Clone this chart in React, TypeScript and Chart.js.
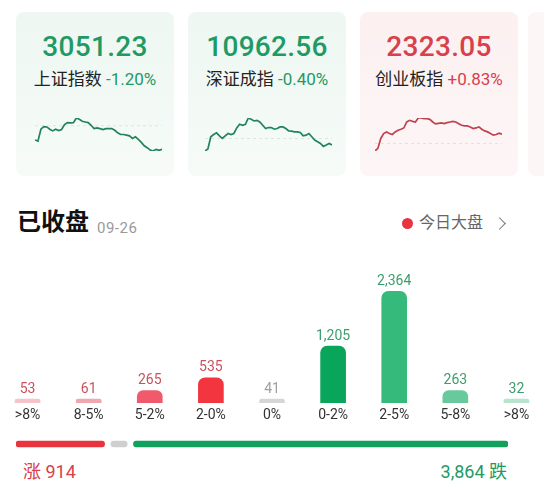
import React, { useEffect, useRef } from "react";
import { Chart, registerables } from "chart.js";

Chart.register(...registerables);

// ---------- DATA ----------
const indexNames = ["上证指数", "深证成指", "创业板指"];
const indexValues = [3051.23, 10962.56, 2323.05];
const indexChanges = [-1.2, -0.4, 0.83];
const indexPrevCloses = [3088.3, 11006.6, 2303.9];

const shSeries = [
  3065.9, 3064.1, 3082.8, 3087.0, 3086.4, 3082.8, 3080.2, 3082.8, 3080.7, 3082.3,
  3090.1, 3093.2, 3092.7, 3093.2, 3100.5, 3098.4, 3095.3, 3094.2, 3093.2, 3089.0,
  3083.8, 3084.9, 3083.8, 3082.3, 3083.8, 3083.8, 3083.8, 3081.2, 3077.1, 3074.5,
  3074.5, 3073.4, 3072.4, 3068.2, 3070.8, 3066.7, 3062.0, 3056.8, 3053.7, 3050.0,
  3048.5, 3051.1, 3049.5, 3051.2,
];
const szSeries = [
  10923.0, 10936.2, 11017.6, 11033.0, 11044.0, 11024.2, 11006.6, 11024.2, 11039.6, 11033.0,
  11039.6, 11077.0, 11101.2, 11094.6, 11101.2, 11143.0, 11134.2, 11123.2, 11127.6, 11116.6,
  11094.6, 11072.6, 11079.2, 11079.2, 11068.2, 11072.6, 11083.6, 11083.6, 11072.6, 11057.2,
  11055.0, 11050.6, 11050.6, 11046.2, 11024.2, 11028.6, 11039.6, 11017.6, 10995.6, 10984.6,
  10973.6, 10953.8, 10962.6, 10973.6, 10962.6,
];
const cySeries = [
  2288.2, 2293.6, 2314.2, 2324.4, 2327.8, 2324.4, 2322.4, 2327.8, 2331.3, 2333.3,
  2336.0, 2348.4, 2351.8, 2349.7, 2348.4, 2356.6, 2356.6, 2355.2, 2355.2, 2353.8,
  2348.4, 2344.3, 2345.6, 2346.3, 2344.9, 2347.0, 2348.4, 2349.7, 2348.4, 2344.9,
  2341.5, 2340.2, 2340.2, 2338.1, 2334.7, 2336.0, 2338.1, 2333.3, 2329.9, 2327.8,
  2324.4, 2321.0, 2322.4, 2325.1, 2323.1,
];
const indexSeries = [shSeries, szSeries, cySeries];

const headerTitle = "已收盘";
const headerDate = "09-26";
const headerLink = "今日大盘";

const distCategories = [">8%", "8-5%", "5-2%", "2-0%", "0%", "0-2%", "2-5%", "5-8%", ">8%"];
const distCounts = [53, 61, 265, 535, 41, 1205, 2364, 263, 32];
const upLabel = "涨";
const downLabel = "跌";

// ---------- STYLES ----------
const FONT = "Roboto, 'Noto Sans CJK SC', sans-serif";
const UP = "#d8404c";
const DOWN = "#1f9a64";
const distColors = [
  "#f5c3c9", "#efa7b0", "#f15a6b", "#f2353f", "#d6d6d6",
  "#08a55a", "#35ba7c", "#68ca9c", "#b8e4cd",
];
const distLabelColors = [
  "#c9525c", "#c9525c", "#c9525c", "#c9525c", "#a0a0a0",
  "#3a9e6c", "#3a9e6c", "#3a9e6c", "#3a9e6c",
];

const cardLefts = [16, 188, 360];
const sparkLefts = [35, 205, 375];

function Sparkline({ data, prevClose, color, left }: { data: number[]; prevClose: number; color: string; left: number }) {
  const ref = useRef<HTMLCanvasElement | null>(null);
  useEffect(() => {
    if (!ref.current) return;
    const refLine = {
      id: "refLine",
      beforeDatasetsDraw(chart: any) {
        const { ctx, chartArea, scales } = chart;
        const y = scales.y.getPixelForValue(prevClose);
        ctx.save();
        ctx.strokeStyle = "rgba(0,0,0,0.09)";
        ctx.lineWidth = 1;
        ctx.setLineDash([3, 3]);
        ctx.beginPath();
        ctx.moveTo(chartArea.left, y);
        ctx.lineTo(chartArea.right, y);
        ctx.stroke();
        ctx.restore();
      },
    };
    const chart = new Chart(ref.current, {
      type: "line",
      data: {
        labels: data.map((_, i) => String(i)),
        datasets: [
          {
            data,
            borderColor: color,
            borderWidth: 1.7,
            pointRadius: 0,
            tension: 0,
            fill: false,
            clip: false as any,
          },
        ],
      },
      options: {
        animation: false,
        responsive: false,
        maintainAspectRatio: false,
        events: [],
        layout: { padding: 0 },
        plugins: { legend: { display: false }, tooltip: { enabled: false } },
        scales: {
          x: { display: false },
          y: { display: false, min: Math.min(...data), max: Math.max(...data) },
        },
      },
      plugins: [refLine],
    });
    return () => chart.destroy();
  }, []);
  return (
    <canvas
      ref={ref}
      width={127}
      height={33}
      style={{ position: "absolute", left, top: 118, width: 127, height: 33 }}
    />
  );
}

function DistChart() {
  const ref = useRef<HTMLCanvasElement | null>(null);
  useEffect(() => {
    if (!ref.current) return;
    const valueLabels = {
      id: "valueLabels",
      afterDatasetsDraw(chart: any) {
        const ctx = chart.ctx;
        const meta = chart.getDatasetMeta(0);
        ctx.save();
        ctx.font = `14px ${FONT}`;
        ctx.textAlign = "center";
        ctx.textBaseline = "middle";
        meta.data.forEach((bar: any, i: number) => {
          ctx.fillStyle = distLabelColors[i];
          ctx.fillText(distCounts[i].toLocaleString("en-US"), bar.x, bar.y - 10);
        });
        ctx.restore();
      },
    };
    const chart = new Chart(ref.current, {
      type: "bar",
      data: {
        labels: distCategories,
        datasets: [
          {
            data: distCounts,
            backgroundColor: distColors,
            barThickness: 25,
            borderRadius: { topLeft: 7, topRight: 7, bottomLeft: 0, bottomRight: 0 },
            borderSkipped: "bottom",
            minBarLength: 4,
          },
        ],
      },
      options: {
        animation: false,
        responsive: false,
        maintainAspectRatio: false,
        events: [],
        layout: { padding: { top: 10.8, bottom: 12.2, left: 0, right: 0 } },
        plugins: { legend: { display: false }, tooltip: { enabled: false } },
        scales: {
          x: {
            grid: { display: false, drawTicks: false },
            border: { display: false },
            ticks: {
              color: "#333",
              font: { size: 14, family: FONT },
              padding: 4,
              maxRotation: 0,
              autoSkip: false,
            },
          },
          y: { display: false, min: 0, max: 2800 },
        },
      },
      plugins: [valueLabels],
    });
    return () => chart.destroy();
  }, []);
  return (
    <canvas
      ref={ref}
      width={550}
      height={180}
      style={{ position: "absolute", left: -3.5, top: 260, width: 550, height: 180 }}
    />
  );
}

function BreadthBar() {
  const ref = useRef<HTMLCanvasElement | null>(null);
  const up = distCounts.slice(0, 4).reduce((a, b) => a + b, 0);
  const flat = distCounts[4];
  const down = distCounts.slice(5).reduce((a, b) => a + b, 0);
  useEffect(() => {
    if (!ref.current) return;
    const gap = (up + down) * 0.0137;
    const flatShown = Math.max(flat, (up + down) * 0.035);
    const s1 = up + gap;
    const e1 = s1 + flatShown;
    const s2 = e1 + gap;
    const total = s2 + down;
    const chart = new Chart(ref.current, {
      type: "bar",
      data: {
        labels: ["all"],
        datasets: [
          { data: [[0, up]] as any, backgroundColor: "#e8343f" },
          { data: [[s1, e1]] as any, backgroundColor: "#cfcfcf" },
          { data: [[s2, total]] as any, backgroundColor: "#12a05c" },
        ].map((d) => ({
          ...d,
          barThickness: 6,
          borderRadius: 3,
          borderSkipped: false,
          grouped: false,
        })) as any,
      },
      options: {
        indexAxis: "y",
        animation: false,
        responsive: false,
        maintainAspectRatio: false,
        events: [],
        layout: { padding: 0 },
        plugins: { legend: { display: false }, tooltip: { enabled: false } },
        scales: {
          x: { display: false, min: 0, max: total },
          y: { display: false },
        },
      },
    });
    return () => chart.destroy();
  }, []);
  return (
    <>
      <canvas
        ref={ref}
        width={492}
        height={12}
        style={{ position: "absolute", left: 16, top: 438, width: 492, height: 12 }}
      />
      <div
        style={{
          position: "absolute", left: 23, top: 461, height: 22, lineHeight: "22px",
          fontSize: 18, color: UP, fontFamily: FONT,
        }}
      >
        {upLabel} {up}
      </div>
      <div
        style={{
          position: "absolute", right: 544 - 507, top: 461, height: 22, lineHeight: "22px",
          fontSize: 18, color: DOWN, fontFamily: FONT, textAlign: "right",
        }}
      >
        {down.toLocaleString("en-US")} {downLabel}
      </div>
    </>
  );
}

export default function App() {
  return (
    <div
      style={{
        position: "fixed", left: 0, top: 0, width: 544, height: 498, overflow: "hidden",
        background: "#ffffff", fontFamily: FONT,
      }}
    >
      {indexNames.map((name, i) => {
        const isUp = indexChanges[i] >= 0;
        const col = isUp ? UP : DOWN;
        const bg = isUp
          ? "linear-gradient(180deg, #fcf0f1 0%, #fdf6f6 100%)"
          : "linear-gradient(180deg, #eef7f2 0%, #f6fbf8 100%)";
        const chg = (isUp ? "+" : "") + indexChanges[i].toFixed(2) + "%";
        return (
          <div
            key={name}
            style={{
              position: "absolute", left: cardLefts[i], top: 12, width: 158, height: 164,
              borderRadius: 8, background: bg,
            }}
          >
            <div
              style={{
                position: "absolute", left: 0, right: 0, top: 19, height: 32, lineHeight: "32px",
                textAlign: "center", fontSize: 28, fontWeight: 500, color: col, letterSpacing: 0.3,
              }}
            >
              {indexValues[i].toFixed(2)}
            </div>
            <div
              style={{
                position: "absolute", left: 0, right: 0, top: 56, height: 22, lineHeight: "22px",
                textAlign: "center", fontSize: 17, color: "#222", whiteSpace: "nowrap",
              }}
            >
              {name} <span style={{ color: col }}>{chg}</span>
            </div>
          </div>
        );
      })}
      <div
        style={{
          position: "absolute", left: 528, top: 12, width: 160, height: 164, borderRadius: 8,
          background: "#fcf6f6",
        }}
      />
      {indexSeries.map((s, i) => (
        <Sparkline
          key={i}
          data={s}
          prevClose={indexPrevCloses[i]}
          color={indexChanges[i] >= 0 ? "#c0424f" : "#22835a"}
          left={sparkLefts[i]}
        />
      ))}

      <div
        style={{
          position: "absolute", left: 17, top: 207, height: 30, lineHeight: "30px",
          fontSize: 24, fontWeight: 700, color: "#111",
        }}
      >
        {headerTitle}
      </div>
      <div
        style={{
          position: "absolute", left: 97, top: 218, height: 20, lineHeight: "20px",
          fontSize: 15, color: "#9a9a9a", letterSpacing: 0.5,
        }}
      >
        {headerDate}
      </div>
      <div
        style={{
          position: "absolute", left: 402, top: 217.5, width: 11, height: 11, borderRadius: 6,
          background: "#e8343f",
        }}
      />
      <div
        style={{
          position: "absolute", left: 419, top: 212, height: 22, lineHeight: "22px",
          fontSize: 16, color: "#666",
        }}
      >
        {headerLink}
      </div>
      <div
        style={{
          position: "absolute", left: 495, top: 218.5, width: 8, height: 8,
          borderTop: "1.5px solid #777", borderRight: "1.5px solid #777", transform: "rotate(45deg)",
        }}
      />

      <DistChart />
      <BreadthBar />
    </div>
  );
}
